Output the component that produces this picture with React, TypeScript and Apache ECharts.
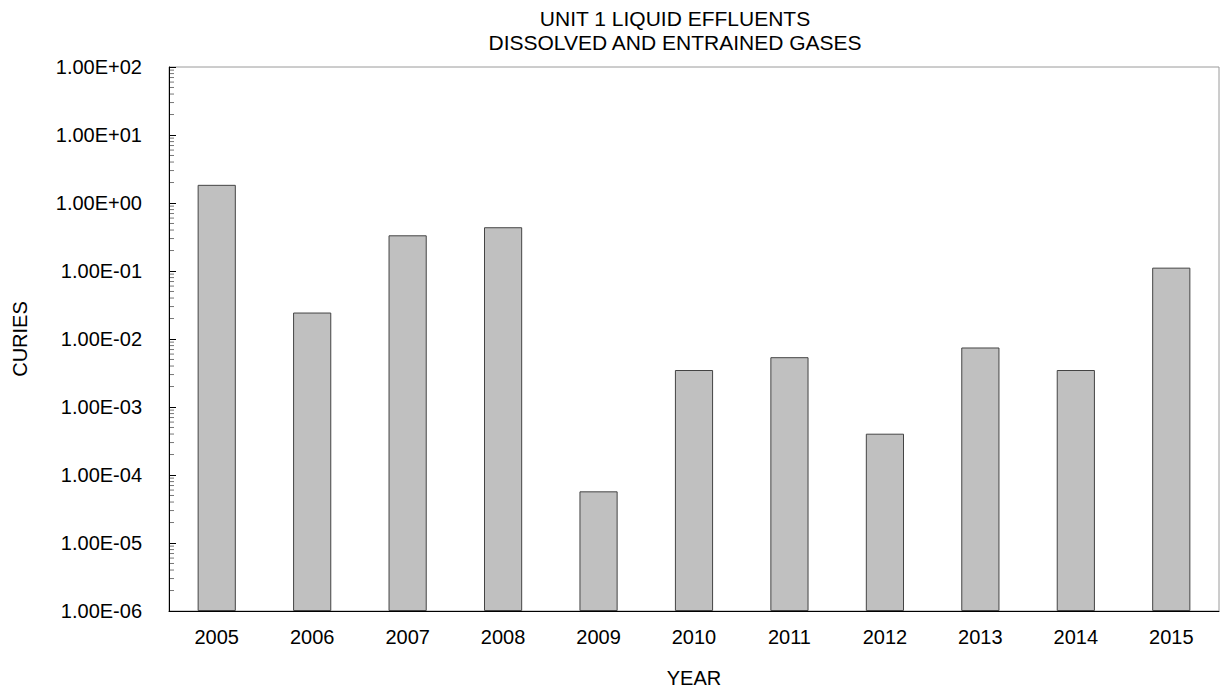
import React, { useEffect, useRef } from 'react';
import * as echarts from 'echarts';

const years = ['2005', '2006', '2007', '2008', '2009', '2010', '2011', '2012', '2013', '2014', '2015'];
const curies = [1.85, 2.45e-2, 3.35e-1, 4.4e-1, 5.75e-5, 3.5e-3, 5.4e-3, 4.05e-4, 7.5e-3, 3.5e-3, 1.12e-1];
const titleLines = ['UNIT 1 LIQUID EFFLUENTS', 'DISSOLVED AND ENTRAINED GASES'];
const yMin = 1e-6;
const yMax = 1e2;
const minorMultipliers = [2, 3, 4, 5, 6, 7, 8, 9];

const FONT = '"Liberation Sans", Arial, sans-serif';

function sciLabel(v: number): string {
  const e = Math.round(Math.log10(v));
  const m = v / Math.pow(10, e);
  return m.toFixed(2) + 'E' + (e < 0 ? '-' : '+') + String(Math.abs(e)).padStart(2, '0');
}

export default function App() {
  const ref = useRef<HTMLDivElement>(null);
  useEffect(() => {
    if (!ref.current) return;
    const chart = echarts.init(ref.current, undefined, { renderer: 'svg' });
    const option: any = {
      animation: false,
      backgroundColor: '#ffffff',
      textStyle: { fontFamily: FONT },
      grid: {
        left: 169,
        right: 3,
        top: 67,
        bottom: 80,
        show: true,
        borderColor: '#9a9a9a',
        borderWidth: 1,
        backgroundColor: 'transparent',
      },
      xAxis: {
        type: 'category',
        data: years,
        name: 'YEAR',
        nameLocation: 'middle',
        nameGap: 57,
        nameTextStyle: { fontSize: 20, color: '#000', fontFamily: FONT },
        axisLine: { show: true, lineStyle: { color: '#000', width: 1 } },
        axisTick: { show: false },
        axisLabel: { fontSize: 20, color: '#000', margin: 16, fontFamily: FONT },
        splitLine: { show: false },
      },
      yAxis: {
        type: 'log',
        logBase: 10,
        min: yMin,
        max: yMax,
        interval: 1,
        startValue: yMin,
        name: 'CURIES',
        nameLocation: 'middle',
        nameRotate: 90,
        nameGap: 139,
        nameTextStyle: { fontSize: 20, color: '#000', fontFamily: FONT },
        axisLine: { show: true, lineStyle: { color: '#000', width: 1 } },
        axisTick: { show: true, inside: true, length: 7, lineStyle: { color: '#000' } },
        axisLabel: { fontSize: 20, color: '#000', margin: 27, formatter: sciLabel, fontFamily: FONT },
        splitLine: { show: false },
      },
      series: [
        {
          type: 'bar',
          data: curies,
          barWidth: '40%',
          itemStyle: { color: '#c0c0c0', borderColor: '#444444', borderWidth: 1 },
        },
      ],
      graphic: titleLines.map((t, i) => ({
        type: 'text',
        x: 675,
        y: 8 + i * 24,
        style: { text: t, textAlign: 'center', fontSize: 21, fontFamily: FONT, fill: '#000' },
      })),
    };
    chart.setOption(option);

    // log-spaced minor ticks along the left axis, placed through the axis scale
    const x0 = chart.convertToPixel({ xAxisIndex: 0 }, years[0]) as number;
    const leftX = (chart.convertToPixel({ gridIndex: 0 }, [years[0], yMin]) as number[])[0];
    const minor: any[] = [];
    for (let d = -6; d < 2; d++) {
      for (const m of minorMultipliers) {
        const v = m * Math.pow(10, d);
        const py = chart.convertToPixel({ yAxisIndex: 0 }, v) as number;
        minor.push({
          type: 'line',
          shape: { x1: 169, y1: py, x2: 174, y2: py },
          style: { stroke: '#777', lineWidth: 1 },
          silent: true,
        });
      }
    }
    void x0; void leftX;
    chart.setOption({
      graphic: [
        ...titleLines.map((t, i) => ({
          type: 'text',
          x: 675,
          y: 8 + i * 24,
          style: { text: t, textAlign: 'center', fontSize: 21, fontFamily: FONT, fill: '#000' },
        })),
        ...minor,
      ],
    });
    return () => chart.dispose();
  }, []);
  return <div ref={ref} style={{ position: 'absolute', left: 0, top: 0, width: 1222, height: 693 }} />;
}
